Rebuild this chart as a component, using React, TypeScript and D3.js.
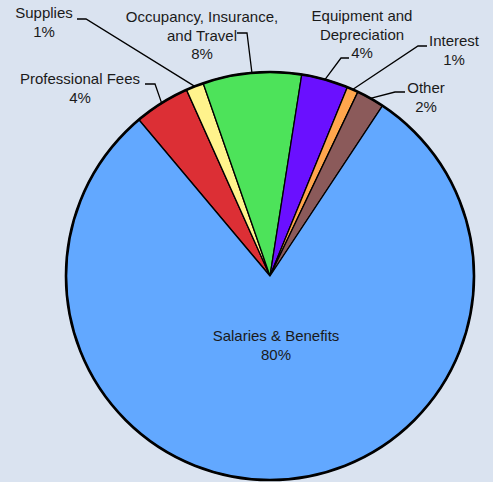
import { useEffect, useRef } from 'react'
import * as d3 from 'd3'

// 费用类别（顺时针，从 Professional Fees 开始）
const categories = [
  'Professional Fees',
  'Supplies',
  'Occupancy, Insurance, and Travel',
  'Equipment and Depreciation',
  'Interest',
  'Other',
  'Salaries & Benefits',
]
const shares = [4.4, 1.4, 7.8, 3.7, 0.9, 2.2, 79.6]
const colors = ['#DC2F35', '#FFF38C', '#4DE35A', '#6A10FF', '#FFA64D', '#8B5A5A', '#62A8FF']

// label line breaks
const labelLines = [
  ['Professional Fees'],
  ['Supplies'],
  ['Occupancy, Insurance,', 'and Travel'],
  ['Equipment and', 'Depreciation'],
  ['Interest'],
  ['Other'],
  ['Salaries & Benefits'],
]

// label placement: text center, first baseline, leader start + elbow (null = no leader)
const labelLayout: Array<{ x: number; y: number; lead: [number, number, number, number] | null }> = [
  { x: 80, y: 84, lead: [145, 84, 155, 84] },
  { x: 44, y: 18, lead: [77, 19, 86, 19] },
  { x: 202, y: 22, lead: [237, 33, 247, 33] },
  { x: 362, y: 21, lead: [349, 58, 341, 58] },
  { x: 454, y: 46, lead: [427, 46, 418, 46] },
  { x: 426, y: 93, lead: [405, 92, 395, 92] },
  { x: 276, y: 341, lead: null },
]

const W = 493
const H = 482

export default function App() {
  const svgRef = useRef<SVGSVGElement>(null)

  useEffect(() => {
    document.body.style.margin = '0'
    if (!svgRef.current) return
    const svg = d3.select(svgRef.current)
    svg.selectAll('*').remove()

    const cx = 270
    const cy = 276
    const r = 204

    svg.append('rect').attr('width', W).attr('height', H).attr('fill', '#DAE3F0')

    const startAngle = (-40 * Math.PI) / 180
    const pie = d3
      .pie<number>()
      .sort(null)
      .value((d) => d)
      .startAngle(startAngle)
      .endAngle(startAngle + 2 * Math.PI)
    const arcs = pie(shares)
    const arc = d3.arc<d3.PieArcDatum<number>>().innerRadius(0).outerRadius(r)

    const g = svg.append('g').attr('transform', `translate(${cx},${cy})`)

    g.selectAll('path.slice')
      .data(arcs)
      .enter()
      .append('path')
      .attr('class', 'slice')
      .attr('d', arc)
      .attr('fill', (_, i) => colors[i])
      .attr('stroke', '#000')
      .attr('stroke-width', 1.3)
      .attr('stroke-linejoin', 'round')

    // 外圈粗边框
    g.append('circle').attr('r', r).attr('fill', 'none').attr('stroke', '#000').attr('stroke-width', 2.6)

    const total = d3.sum(shares)

    arcs.forEach((a, i) => {
      const lay = labelLayout[i]
      const mid = (a.startAngle + a.endAngle) / 2
      if (lay.lead) {
        const ex = cx + r * Math.sin(mid)
        const ey = cy - r * Math.cos(mid)
        svg
          .append('path')
          .attr('d', `M${lay.lead[0]},${lay.lead[1]}L${lay.lead[2]},${lay.lead[3]}L${ex},${ey}`)
          .attr('fill', 'none')
          .attr('stroke', '#000')
          .attr('stroke-width', 1.3)
      }
      const lines = [...labelLines[i], `${Math.round((shares[i] / total) * 100)}%`]
      const t = svg
        .append('text')
        .attr('text-anchor', 'middle')
        .attr('font-family', 'Liberation Sans, Arial, sans-serif')
        .attr('font-size', 15)
        .attr('fill', '#1a1a1a')
      lines.forEach((s, j) => {
        t.append('tspan').attr('x', lay.x).attr('y', lay.y + j * 18.5).text(s)
      })
    })
  }, [])

  return <svg ref={svgRef} width={W} height={H} style={{ display: 'block' }} />
}
